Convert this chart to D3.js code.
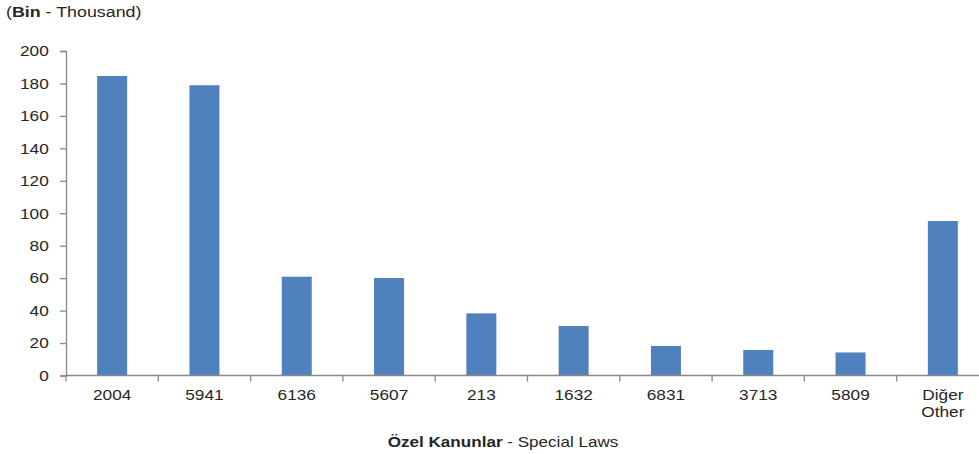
<!DOCTYPE html>
<html><head><meta charset="utf-8">
<script src="https://cdn.jsdelivr.net/npm/d3@7"></script>
<style>body{margin:0;background:#fff}svg{display:block;font-family:"Liberation Sans",Arial,sans-serif}</style>
</head><body><svg id="c" width="979" height="454"></svg>
<script>
const categories = ["2004","5941","6136","5607","213","1632","6831","3713","5809","Diğer\nOther"];
const values = [184.6,178.9,60.9,60.1,38.3,30.5,18.2,15.7,14.2,95.2];
const yTicks = [0,20,40,60,80,100,120,140,160,180,200];

(function(){
const svg = d3.select("#c");
const mLeft = 66, mRight = 989, mTop = 51, mBottom = 375.5;
const x = d3.scaleBand().domain(categories).range([mLeft, mRight]).paddingInner(0.675).paddingOuter(0.3375);
const y = d3.scaleLinear().domain([0,200]).range([mBottom, mTop]);
const axisColor = "#898989", textColor = "#262626";
const sx = 1.15;

svg.append("g").attr("transform","translate(6,17) scale(1.19,1)")
  .append("text").attr("font-size",15).attr("fill",textColor)
  .html('(<tspan font-weight="bold">Bin</tspan> - Thousand)');

// y axis
const ya = svg.append("g").attr("transform",`translate(${mLeft},0)`)
  .call(d3.axisLeft(y).tickValues(yTicks).tickSize(6).tickPadding(9));
ya.select(".domain").attr("stroke",axisColor).attr("stroke-width",1.3);
ya.selectAll(".tick line").attr("stroke",axisColor).attr("stroke-width",1.3);
ya.selectAll(".tick text").attr("font-size",15).attr("fill",textColor)
  .attr("font-family","Liberation Sans, Arial, sans-serif").attr("transform",`scale(${sx},1)`);

// bars
svg.append("g").selectAll("rect").data(values).join("rect")
  .attr("x",(d,i)=>x(categories[i])).attr("width",x.bandwidth())
  .attr("y",d=>y(d)).attr("height",d=>mBottom-y(d)).attr("fill","#4F81BD");

// x axis
const xb = d3.scaleLinear().domain([0,categories.length]).range([mLeft,mRight]);
const xa = svg.append("g");
xa.append("line").attr("x1",mLeft).attr("x2",mRight).attr("y1",mBottom).attr("y2",mBottom).attr("stroke",axisColor).attr("stroke-width",1.3);
xa.selectAll("line.t").data(d3.range(categories.length+1)).join("line").attr("class","t")
  .attr("x1",d=>xb(d)).attr("x2",d=>xb(d)).attr("y1",mBottom).attr("y2",mBottom+6).attr("stroke",axisColor).attr("stroke-width",1.3);
categories.forEach((c,i)=>{
  const lines = c.split("\n");
  const cx = x(c)+x.bandwidth()/2;
  const t = svg.append("g").attr("transform",`translate(${cx},400) scale(${sx},1)`)
    .append("text").attr("text-anchor","middle").attr("font-size",15).attr("fill",textColor);
  lines.forEach((l,j)=>t.append("tspan").attr("x",0).attr("dy",j?17:0).text(l));
});

svg.append("g").attr("transform","translate(503,447) scale(1.22,1)")
  .append("text").attr("text-anchor","middle").attr("font-size",14).attr("fill",textColor)
  .html('<tspan font-weight="bold">Özel Kanunlar</tspan> - Special Laws');
})();
</script></body></html>
